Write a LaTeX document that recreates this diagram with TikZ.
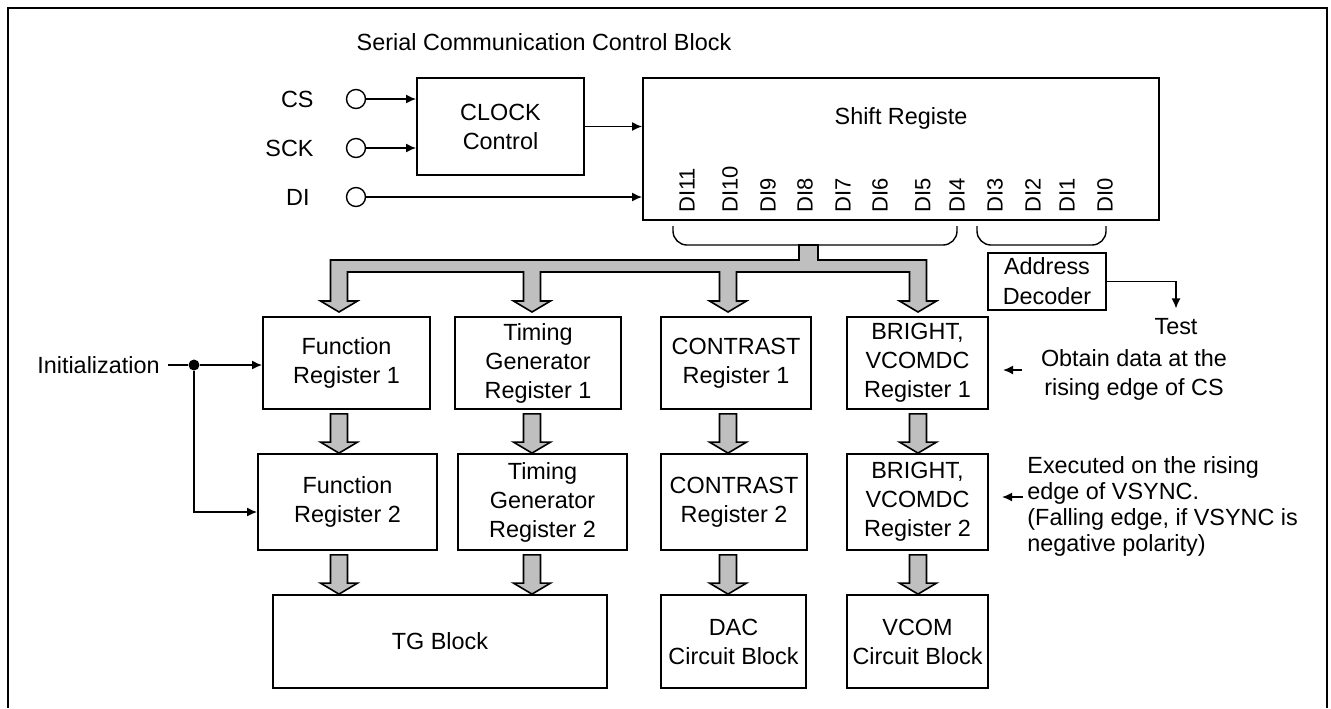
\documentclass[tikz,border=0pt]{standalone}
\usepackage{fontspec}
\setmainfont{Liberation Sans}
\usetikzlibrary{arrows.meta,calc}

% wide grey arrow between two points (x from the first one)
\newcommand{\fatdown}[2]{%
  \filldraw[fatarr] let \p1=#1, \p2=#2 in
    (\x1-4.25pt,\y1-2pt) -- (\x1-4.25pt,\y2+5.5pt) -- (\x1-9.25pt,\y2+5.5pt)
    -- (\x1,\y2) -- (\x1+9.25pt,\y2+5.5pt) -- (\x1+4.25pt,\y2+5.5pt)
    -- (\x1+4.25pt,\y1-2pt) -- cycle;}

\begin{document}
\begin{tikzpicture}[
  x=0.5pt, y=-0.5pt,
  blk/.style={draw, line width=0.9pt, inner sep=0pt, align=center,
    font=\fontsize{11.7}{14.5}\selectfont},
  txt/.style={inner sep=0pt, font=\fontsize{11.7}{14.5}\selectfont},
  pin/.style={circle, draw, line width=0.7pt, minimum size=9.5pt, inner sep=0pt},
  bitlbl/.style={rotate=90, anchor=west, inner sep=0pt,
    font=\fontsize{11}{13}\selectfont},
  sig/.style={line width=0.8pt, ->},
  fatarr/.style={fill=black!25, draw=black, line width=0.8pt},
  >={Latex[length=5pt,width=4.5pt]}
]
  \useasboundingbox (0,0) rectangle (1331,708);
  \draw[line width=0.9pt] (8,708) -- (8,8) -- (1327,8) -- (1327,708);

  \node[txt] (title) at (544,42) {Serial Communication Control Block};

  % input pins
  \node[pin] (cs) at (356,99) {};
  \node[pin] (sck) at (356,148) {};
  \node[pin] (di) at (356,197) {};
  \node[txt, anchor=east] (cslbl) at (314,99) {CS};
  \node[txt, anchor=east] (scklbl) at (314,148) {SCK};
  \node[txt, anchor=east] (dilbl) at (310,197) {DI};

  \node[blk, minimum width=83.5pt, minimum height=48.5pt] (clk) at (500.5,126.5) {CLOCK\\Control};
  \node[blk, minimum width=258pt, minimum height=71pt] (sreg) at (901,149) {};
  \node[txt] (sregtxt) at (901,118) {Shift Registe};

  \draw[sig] (cs) -- (cs -| clk.west);
  \draw[sig] (sck) -- (sck -| clk.west);
  \draw[sig] (di) -- (di -| sreg.west);
  \draw[sig] (clk.east) -- (clk.east -| sreg.west);

  % data bits
  \foreach \x/\t in {687/DI11, 730/DI10, 768/DI9, 805/DI8, 843/DI7, 880/DI6,
                     923/DI5, 957/DI4, 995/DI3, 1033/DI2, 1067/DI1, 1105/DI0}
    \node[bitlbl] (b\t) at (\x,213) {\t};

  \draw[line width=0.7pt, rounded corners=7pt] (673,226) -- (673,245) -- (957,245) -- (957,226);
  \draw[line width=0.7pt, rounded corners=7pt] (977,226) -- (977,245) -- (1106,245) -- (1106,226);

  % register columns
  \coordinate (c1) at (339,0);
  \coordinate (c2) at (532,0);
  \coordinate (c3) at (728,0);
  \coordinate (c4) at (918,0);

  \node[blk, minimum width=83.5pt, minimum height=46pt] (fr1) at (346.5,363) {Function\\Register 1};
  \node[blk, minimum width=83pt, minimum height=46pt] (tr1) at (538,363) {Timing\\Generator\\Register 1};
  \node[blk, minimum width=75pt, minimum height=46pt] (cr1) at (736,363) {CONTRAST\\Register 1};
  \node[blk, minimum width=70.5pt, minimum height=46pt] (br1) at (917.5,363) {BRIGHT,\\VCOMDC\\Register 1};

  \node[blk, minimum width=89.5pt, minimum height=48pt] (fr2) at (347.5,502) {Function\\Register 2};
  \node[blk, minimum width=84.5pt, minimum height=48pt] (tr2) at (542.5,502) {Timing\\Generator\\Register 2};
  \node[blk, minimum width=73pt, minimum height=48pt] (cr2) at (734,502) {CONTRAST\\Register 2};
  \node[blk, minimum width=70.5pt, minimum height=48pt] (br2) at (917.5,502) {BRIGHT,\\VCOMDC\\Register 2};

  \node[blk, minimum width=167pt, minimum height=46.5pt] (tgb) at (440,641.5) {TG Block};
  \node[blk, minimum width=72.5pt, minimum height=46.5pt] (dac) at (733.5,641.5) {DAC\\Circuit Block};
  \node[blk, minimum width=70.5pt, minimum height=46.5pt] (vcom) at (917.5,641.5) {VCOM\\Circuit Block};

  % bus from DI11-DI4
  \draw[fatarr] (799,245) -- (818,245) -- (818,260) -- (926.5,260) -- (926.5,301)
    -- (936.5,301) -- (918,312) -- (899.5,301) -- (909.5,301) -- (909.5,272)
    -- (736.5,272) -- (736.5,301) -- (746.5,301) -- (728,312) -- (709.5,301)
    -- (719.5,301) -- (719.5,272) -- (540.5,272) -- (540.5,301) -- (550.5,301)
    -- (532,312) -- (513.5,301) -- (523.5,301) -- (523.5,272) -- (347.5,272)
    -- (347.5,301) -- (357.5,301) -- (339,312) -- (320.5,301) -- (330.5,301)
    -- (330.5,260) -- (799,260) -- cycle;

  \fatdown{(c1 |- fr1.south)}{(c1 |- fr2.north)}
  \fatdown{(c2 |- tr1.south)}{(c2 |- tr2.north)}
  \fatdown{(c3 |- cr1.south)}{(c3 |- cr2.north)}
  \fatdown{(c4 |- br1.south)}{(c4 |- br2.north)}
  \fatdown{(c1 |- fr2.south)}{(c1 |- tgb.north)}
  \fatdown{(c2 |- tr2.south)}{(c2 |- tgb.north)}
  \fatdown{(c3 |- cr2.south)}{(c3 |- dac.north)}
  \fatdown{(c4 |- br2.south)}{(c4 |- vcom.north)}

  % initialization
  \node[txt, anchor=east] (init) at (160,365) {Initialization};
  \node[circle, fill, inner sep=0pt, minimum size=5.5pt] (dot) at (194,365) {};
  \draw[line width=0.8pt, shorten <=4pt] (init.east) -- (dot);
  \draw[sig] (dot) -- (dot -| fr1.west);
  \draw[sig] (dot) |- ($(fr2.west)+(0,10)$);

  % address decoder
  \node[blk, minimum width=59pt, minimum height=28.5pt, font=\fontsize{11.7}{15}\selectfont] (addr) at (1047,281.5) {Address\\Decoder};
  \node[txt] (test) at (1176,327) {Test};
  \draw[sig, shorten >=5pt] (addr.east) -| (test.north);

  % notes
  \node[txt, align=center] (obt) at (1134,375) {Obtain data at the\\rising edge of CS};
  \coordinate (o1) at (1022,370);
  \coordinate (o2) at (1003,370);
  \draw[sig] (o1) -- (o2);

  \node[txt, align=left, anchor=west, font=\fontsize{11.7}{13}\selectfont] (exe) at (1027,506)
    {Executed on the rising\\edge of VSYNC.\\(Falling edge, if VSYNC is\\negative polarity)};
  \coordinate (e1) at (1023,497);
  \coordinate (e2) at (1002,497);
  \draw[sig] (e1) -- (e2);
\end{tikzpicture}
\end{document}
